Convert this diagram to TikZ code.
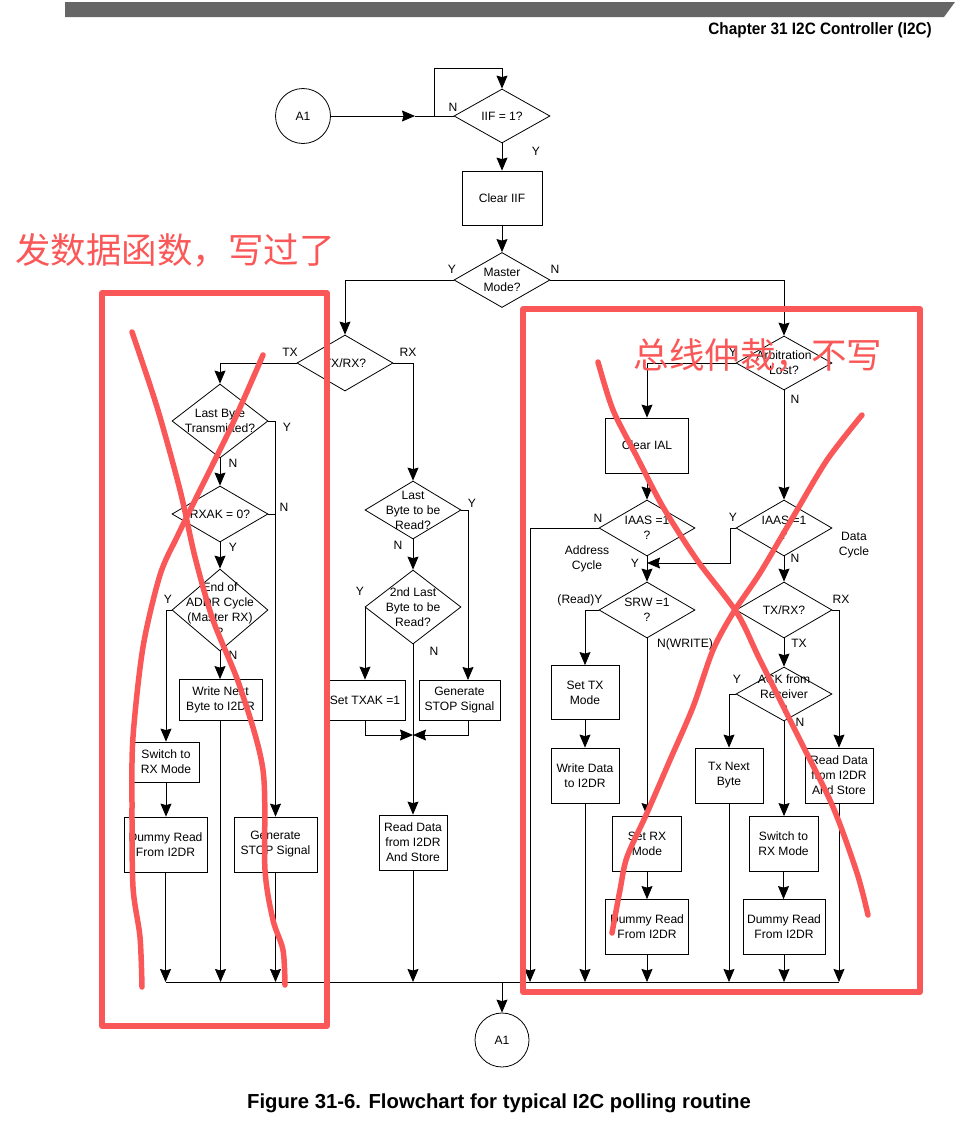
\documentclass[tikz,border=0pt]{standalone}
\usepackage{fontspec}
\setmainfont{Liberation Sans}
\newfontfamily\cjk{Noto Sans CJK SC}
\usetikzlibrary{shapes.geometric,arrows.meta,calc}
\definecolor{redmark}{RGB}{250,88,88}
\definecolor{bargray}{RGB}{102,102,102}
\newcommand{\DiaNode}[5]{%
  \node[dia, minimum width=#3pt, minimum height=#4pt] (#1) at #2 {};
  \node[dtext] (#1-t) at (#1.center) {#5};}
\newcommand{\BoxNode}[5]{%
  \node[box, minimum width=#3pt, minimum height=#4pt] (#1) at #2 {#5};}
\begin{document}
\begin{tikzpicture}[x=1pt,y=-1pt,
  every node/.style={font=\fontsize{12.1}{15}\selectfont},
  box/.style={draw, rectangle, line width=0.8pt, align=center, inner sep=0pt},
  dia/.style={draw, diamond, line width=0.8pt, inner sep=0pt},
  dtext/.style={align=center, inner sep=0pt},
  lab/.style={inner sep=0pt, align=center},
  conn/.style={line width=0.8pt},
  arr/.style={conn, -{Stealth[length=13pt,width=11pt,inset=1.5pt]}},
  redline/.style={draw=redmark, line width=5.5pt, line cap=round, line join=round},
  ]
\useasboundingbox (0,0) rectangle (971,1125);
% header
\fill[bargray] (65,2) -- (955,2) -- (944,17) -- (65,17) -- cycle;
\node[anchor=east, inner sep=0pt] (hdr) at (932,30) {\scalebox{0.93}[1]{\fontsize{16.5}{18}\selectfont\bfseries Chapter 31 I2C Controller (I2C)}};
% caption
\node[inner sep=0pt] (cap) at (499,1103) {\fontsize{20.3}{22}\selectfont\bfseries Figure 31-6. Flowchart for typical I2C polling routine};

% start
\node[draw, circle, line width=0.8pt, minimum size=55pt, inner sep=0pt] (a1) at (303,116) {A1};
\DiaNode{iif}{(502,116)}{96}{54}{IIF = 1?}
\BoxNode{ciif}{(502,198)}{80}{54}{Clear IIF}
\DiaNode{mm}{(502,280)}{96}{55}{Master\\Mode?}
\DiaNode{txa}{(345,363)}{96}{56}{TX/RX?}
\DiaNode{arb}{(784,363)}{96}{54}{Arbitration\\Lost?}
% left column
\DiaNode{lbt}{(220,421)}{96}{74}{Last Byte\\Transmitted?}
\DiaNode{rxak}{(220,514)}{96}{56}{RXAK = 0?}
\DiaNode{eoa}{(220,610)}{96}{82}{End of\\ADDR Cycle\\(Master RX)\\?}
\BoxNode{wnb}{(220.5,700)}{83}{41}{Write Next\\Byte to I2DR}
\BoxNode{sw1}{(166,762)}{66}{40}{Switch to\\RX Mode}
\BoxNode{dr1}{(165.5,844.5)}{83}{55}{Dummy Read\\From I2DR}
\BoxNode{gs1}{(275.5,844.5)}{83}{55}{Generate\\STOP Signal}
% middle column
\DiaNode{lbr}{(413,510)}{96}{58}{Last\\Byte to be\\Read?}
\DiaNode{slb}{(413,607)}{96}{74}{2nd Last\\Byte to be\\Read?}
\BoxNode{stx1}{(365,700)}{81}{40}{Set TXAK =1}
\BoxNode{gs2}{(459.5,700)}{81}{40}{Generate\\STOP Signal}
\BoxNode{rd1}{(413,842.5)}{68}{55}{Read Data\\from I2DR\\And Store}
% right column
\BoxNode{cial}{(647,445.5)}{83}{55}{Clear IAL}
\DiaNode{iaL}{(647,528)}{96}{56}{IAAS =1\\?}
\DiaNode{iaR}{(784,528)}{96}{56}{IAAS =1\\?}
\DiaNode{srw}{(647,610)}{96}{56}{SRW =1\\?}
\DiaNode{txb}{(784,610)}{96}{56}{TX/RX?}
\DiaNode{ack}{(784,694)}{96}{54}{ACK from\\Receiver\\?}
\BoxNode{stm}{(585,692.5)}{68}{54}{Set TX\\Mode}
\BoxNode{wd}{(585,775.5)}{68}{55}{Write Data\\to I2DR}
\BoxNode{srm}{(647,844)}{69}{55}{Set RX\\Mode}
\BoxNode{dr2}{(647,927)}{83}{55}{Dummy Read\\From I2DR}
\BoxNode{txn}{(729,775.5)}{68}{55}{Tx Next\\Byte}
\BoxNode{rd2}{(839,775.5)}{68}{55}{Read Data\\from I2DR\\And Store}
\BoxNode{sw2}{(783.5,844)}{69}{55}{Switch to\\RX Mode}
\BoxNode{dr3}{(784,927)}{82}{55}{Dummy Read\\From I2DR}
\node[draw, circle, line width=0.8pt, minimum size=54pt, inner sep=0pt] (a1b) at (502,1040) {A1};

% coordinates
\coordinate (tip) at (415,116);
\coordinate (loopc) at (434,116);
\coordinate (lt) at (434,68);
\coordinate (bus) at (0,982);
\coordinate (g2in) at (468,680);
\coordinate (mg) at (413,735);
\coordinate (nL) at (530,528);
\coordinate (yR) at (730,563);

% connectors top
\draw[arr] (a1.east) -- (tip);
\draw[conn] (tip) -- (iif.west);
\draw[arr] (loopc) -- (lt) -| (iif.north);
\draw[arr] (iif.south) -- (ciif.north);
\draw[arr] (ciif.south) -- (mm.north);
\draw[arr] (mm.west) -| (txa.north);
\draw[arr] (mm.east) -| (arb.north);
% left
\draw[arr] (txa.west) -| (lbt.north);
\draw[arr] (lbt.south) -- (rxak.north);
\draw[arr] (rxak.south) -- (eoa.north);
\draw[arr] (eoa.south) -- (eoa.south |- wnb.north);
\draw[arr] (lbt.east) -- (lbt.east -| gs1.north) -- (gs1.north);
\draw[conn] (rxak.east) -- (rxak.east -| gs1.north);
\draw[arr] (eoa.west) -| (sw1.north);
\draw[arr] (sw1.south) -- (sw1.south |- dr1.north);
\draw[arr] (dr1.south) -- (dr1.south |- bus);
\draw[arr] (wnb.south) -- (wnb.south |- bus);
\draw[arr] (gs1.south) -- (gs1.south |- bus);
% middle
\draw[arr] (txa.east) -| (lbr.north);
\draw[arr] (lbr.south) -- (slb.north);
\draw[arr] (lbr.east) -| (g2in);
\draw[arr] (slb.west) -| (stx1.north);
\draw[arr] (slb.south) -- (slb.south |- rd1.north);
\draw[arr] (stx1.south) |- (mg);
\draw[arr] (g2in |- gs2.south) |- (mg);
\draw[arr] (rd1.south) -- (rd1.south |- bus);
% right
\draw[arr] (arb.west) -| (cial.north);
\draw[arr] (arb.south) -- (iaR.north);
\draw[arr] (cial.south) -- (iaL.north);
\draw[arr] (iaL.south) -- (srw.north);
\draw[arr] (iaL.west) -- (nL) -- (nL |- bus);
\draw[arr] (iaR.west) -| (yR) -- (yR -| iaL.south);
\draw[arr] (iaR.south) -- (txb.north);
\draw[arr] (srw.west) -| (stm.north);
\draw[arr] (stm.south) -- (wd.north);
\draw[arr] (wd.south) -- (wd.south |- bus);
\draw[arr] (srw.south) -- (srm.north);
\draw[arr] (srm.south) -- (dr2.north);
\draw[arr] (dr2.south) -- (dr2.south |- bus);
\draw[arr] (txb.east) -| (rd2.north);
\draw[arr] (rd2.south) -- (rd2.south |- bus);
\draw[arr] (txb.south) -- (ack.north);
\draw[arr] (ack.west) -| (txn.north);
\draw[arr] (txn.south) -- (txn.south |- bus);
\draw[arr] (ack.south) -- (ack.south |- sw2.north);
\draw[arr] (sw2.south) -- (sw2.south |- dr3.north);
\draw[arr] (dr3.south) -- (dr3.south |- bus);
% bus
\draw[conn] (dr1.south |- bus) -- (rd2.south |- bus);
\draw[arr] (iif.south |- bus) -- (a1b.north);

% labels
\node[lab] (l1) at (453,107) {N};
\node[lab] (l2) at (536,151) {Y};
\node[lab] (l3) at (452,269) {Y};
\node[lab] (l4) at (555,269) {N};
\node[lab] (l5) at (290,352) {TX};
\node[lab] (l6) at (408,352) {RX};
\node[lab] (l7) at (287,427) {Y};
\node[lab] (l8) at (233,463) {N};
\node[lab] (l9) at (284,507) {N};
\node[lab] (l10) at (233,547) {Y};
\node[lab] (l11) at (168,599) {Y};
\node[lab] (l12) at (233,655) {N};
\node[lab] (l13) at (472,503) {Y};
\node[lab] (l14) at (398,545) {N};
\node[lab] (l15) at (360,591) {Y};
\node[lab] (l16) at (434,651) {N};
\node[lab] (l17) at (733,352) {Y};
\node[lab] (l18) at (795,399) {N};
\node[lab] (l19) at (598,518) {N};
\node[lab] (l20) at (587,559) {Address\\Cycle};
\node[lab] (l21) at (635,563) {Y};
\node[lab] (l22) at (733,517) {Y};
\node[lab] (l23) at (854,545) {Data\\Cycle};
\node[lab] (l24) at (795,558) {N};
\node[lab] (l25) at (580,600) {(Read)Y};
\node[lab] (l26) at (685,644) {N(WRITE)};
\node[lab] (l27) at (841,599) {RX};
\node[lab] (l28) at (799,643) {TX};
\node[lab] (l29) at (737,679) {Y};
\node[lab] (l30) at (800,722) {N};

% red annotations
\draw[redline] (102,293) rectangle (327,1026);
\draw[redline] (523,309) rectangle (920,992);
\draw[redline] plot[smooth] coordinates {(132,332) (157,407) (180,490) (195,557) (213,620) (240,687) (263,770) (265,870) (273,920) (283,950) (285,985)};
\draw[redline] plot[smooth] coordinates {(263,355) (233,423) (200,490) (177,537) (160,575) (143,647) (133,737) (132,803) (133,887) (140,937) (142,987)};
\draw[redline] plot[smooth] coordinates {(598,362) (613,410) (637,457) (663,507) (697,560) (737,613) (760,660) (800,740) (833,807) (857,873) (868,915)};
\draw[redline] plot[smooth] coordinates {(862,415) (827,460) (793,517) (760,573) (733,613) (713,650) (693,707) (670,760) (647,813) (627,857) (620,890) (612,933)};
\node[text=redmark, inner sep=0pt] (zh1) at (175,250) {\cjk\fontsize{35.5}{40}\selectfont 发数据函数，写过了};
\node[text=redmark, inner sep=0pt] (zh2) at (758,355) {\cjk\fontsize{35.5}{40}\selectfont 总线仲裁，不写};
\end{tikzpicture}
\end{document}
